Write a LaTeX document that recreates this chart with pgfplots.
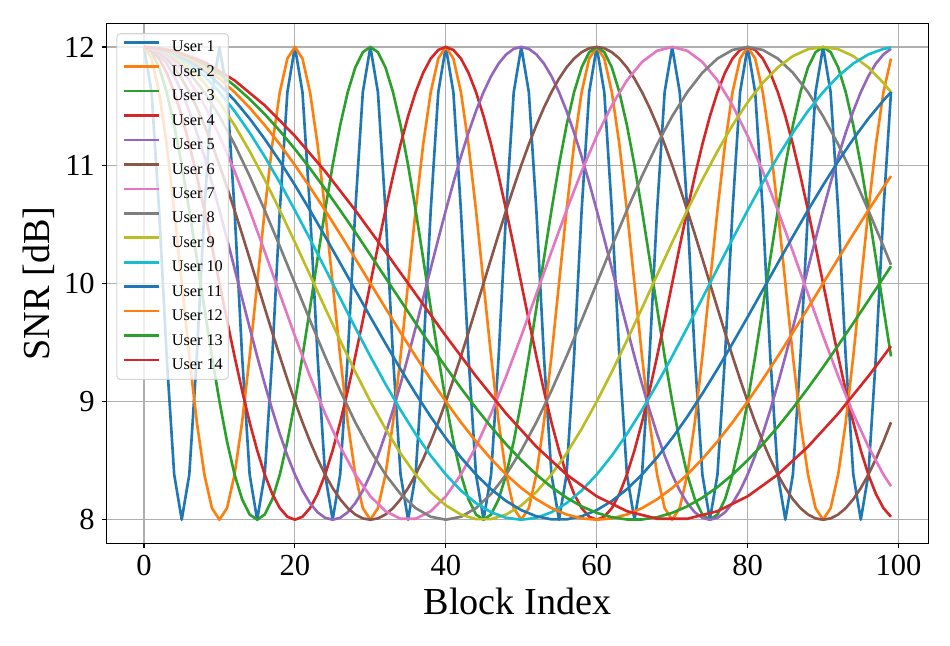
\documentclass[border=0pt]{standalone}
\usepackage{pgfplots}
\pgfplotsset{compat=1.18}
\usepackage{pgfplotstable}
\usepackage{fontspec}
\setmainfont{Liberation Serif}
\definecolor{c0}{HTML}{1F77B4}
\definecolor{c1}{HTML}{FF7F0E}
\definecolor{c2}{HTML}{2CA02C}
\definecolor{c3}{HTML}{D62728}
\definecolor{c4}{HTML}{9467BD}
\definecolor{c5}{HTML}{8C564B}
\definecolor{c6}{HTML}{E377C2}
\definecolor{c7}{HTML}{7F7F7F}
\definecolor{c8}{HTML}{BCBD22}
\definecolor{c9}{HTML}{17BECF}
\definecolor{gridc}{HTML}{B0B0B0}
\definecolor{legc}{HTML}{CCCCCC}

\pgfplotstableread{
t u1 u2 u3 u4 u5 u6
0 12 12 12 12 12 12
1 11.618 11.902 11.956 11.975 11.984 11.989
2 10.618 11.618 11.827 11.902 11.937 11.956
3 9.382 11.176 11.618 11.782 11.860 11.902
4 8.382 10.618 11.338 11.618 11.753 11.827
5 8 10 11 11.414 11.618 11.732
6 8.382 9.382 10.618 11.176 11.458 11.618
7 9.382 8.824 10.209 10.908 11.275 11.486
8 10.618 8.382 9.791 10.618 11.072 11.338
9 11.618 8.098 9.382 10.313 10.852 11.176
10 12 8 9 10 10.618 11
11 11.618 8.098 8.662 9.687 10.375 10.813
12 10.618 8.382 8.382 9.382 10.126 10.618
13 9.382 8.824 8.173 9.092 9.874 10.416
14 8.382 9.382 8.044 8.824 9.625 10.209
15 8 10 8 8.586 9.382 10
16 8.382 10.618 8.044 8.382 9.148 9.791
17 9.382 11.176 8.173 8.218 8.928 9.584
18 10.618 11.618 8.382 8.098 8.725 9.382
19 11.618 11.902 8.662 8.025 8.542 9.187
20 12 12 9 8 8.382 9
21 11.618 11.902 9.382 8.025 8.247 8.824
22 10.618 11.618 9.791 8.098 8.140 8.662
23 9.382 11.176 10.209 8.218 8.063 8.514
24 8.382 10.618 10.618 8.382 8.016 8.382
25 8 10 11 8.586 8 8.268
26 8.382 9.382 11.338 8.824 8.016 8.173
27 9.382 8.824 11.618 9.092 8.063 8.098
28 10.618 8.382 11.827 9.382 8.140 8.044
29 11.618 8.098 11.956 9.687 8.247 8.011
30 12 8 12 10 8.382 8
31 11.618 8.098 11.956 10.313 8.542 8.011
32 10.618 8.382 11.827 10.618 8.725 8.044
33 9.382 8.824 11.618 10.908 8.928 8.098
34 8.382 9.382 11.338 11.176 9.148 8.173
35 8 10 11 11.414 9.382 8.268
36 8.382 10.618 10.618 11.618 9.625 8.382
37 9.382 11.176 10.209 11.782 9.874 8.514
38 10.618 11.618 9.791 11.902 10.126 8.662
39 11.618 11.902 9.382 11.975 10.375 8.824
40 12 12 9 12 10.618 9
41 11.618 11.902 8.662 11.975 10.852 9.187
42 10.618 11.618 8.382 11.902 11.072 9.382
43 9.382 11.176 8.173 11.782 11.275 9.584
44 8.382 10.618 8.044 11.618 11.458 9.791
45 8 10 8 11.414 11.618 10
46 8.382 9.382 8.044 11.176 11.753 10.209
47 9.382 8.824 8.173 10.908 11.860 10.416
48 10.618 8.382 8.382 10.618 11.937 10.618
49 11.618 8.098 8.662 10.313 11.984 10.813
50 12 8 9 10 12 11
51 11.618 8.098 9.382 9.687 11.984 11.176
52 10.618 8.382 9.791 9.382 11.937 11.338
53 9.382 8.824 10.209 9.092 11.860 11.486
54 8.382 9.382 10.618 8.824 11.753 11.618
55 8 10 11 8.586 11.618 11.732
56 8.382 10.618 11.338 8.382 11.458 11.827
57 9.382 11.176 11.618 8.218 11.275 11.902
58 10.618 11.618 11.827 8.098 11.072 11.956
59 11.618 11.902 11.956 8.025 10.852 11.989
60 12 12 12 8 10.618 12
61 11.618 11.902 11.956 8.025 10.375 11.989
62 10.618 11.618 11.827 8.098 10.126 11.956
63 9.382 11.176 11.618 8.218 9.874 11.902
64 8.382 10.618 11.338 8.382 9.625 11.827
65 8 10 11 8.586 9.382 11.732
66 8.382 9.382 10.618 8.824 9.148 11.618
67 9.382 8.824 10.209 9.092 8.928 11.486
68 10.618 8.382 9.791 9.382 8.725 11.338
69 11.618 8.098 9.382 9.687 8.542 11.176
70 12 8 9 10 8.382 11
71 11.618 8.098 8.662 10.313 8.247 10.813
72 10.618 8.382 8.382 10.618 8.140 10.618
73 9.382 8.824 8.173 10.908 8.063 10.416
74 8.382 9.382 8.044 11.176 8.016 10.209
75 8 10 8 11.414 8 10
76 8.382 10.618 8.044 11.618 8.016 9.791
77 9.382 11.176 8.173 11.782 8.063 9.584
78 10.618 11.618 8.382 11.902 8.140 9.382
79 11.618 11.902 8.662 11.975 8.247 9.187
80 12 12 9 12 8.382 9
81 11.618 11.902 9.382 11.975 8.542 8.824
82 10.618 11.618 9.791 11.902 8.725 8.662
83 9.382 11.176 10.209 11.782 8.928 8.514
84 8.382 10.618 10.618 11.618 9.148 8.382
85 8 10 11 11.414 9.382 8.268
86 8.382 9.382 11.338 11.176 9.625 8.173
87 9.382 8.824 11.618 10.908 9.874 8.098
88 10.618 8.382 11.827 10.618 10.126 8.044
89 11.618 8.098 11.956 10.313 10.375 8.011
90 12 8 12 10 10.618 8
91 11.618 8.098 11.956 9.687 10.852 8.011
92 10.618 8.382 11.827 9.382 11.072 8.044
93 9.382 8.824 11.618 9.092 11.275 8.098
94 8.382 9.382 11.338 8.824 11.458 8.173
95 8 10 11 8.586 11.618 8.268
96 8.382 10.618 10.618 8.382 11.753 8.382
97 9.382 11.176 10.209 8.218 11.860 8.514
98 10.618 11.618 9.791 8.098 11.937 8.662
99 11.618 11.902 9.382 8.025 11.984 8.824
}\tabA

\pgfplotstableread{
t u7 u8 u9 u10 u11 u12 u13
0 12 12 12 12 12 12 12
2 11.968 11.975 11.981 11.984 11.987 11.989 11.991
4 11.873 11.902 11.923 11.937 11.948 11.956 11.963
6 11.717 11.782 11.827 11.860 11.884 11.902 11.917
8 11.506 11.618 11.696 11.753 11.795 11.827 11.852
10 11.247 11.414 11.532 11.618 11.683 11.732 11.771
12 10.948 11.176 11.338 11.458 11.548 11.618 11.673
14 10.618 10.908 11.118 11.275 11.394 11.486 11.559
16 10.268 10.618 10.877 11.072 11.221 11.338 11.431
18 9.910 10.313 10.618 10.852 11.033 11.176 11.290
20 9.555 10 10.347 10.618 10.831 11 11.136
22 9.214 9.687 10.070 10.375 10.618 10.813 10.972
24 8.898 9.382 9.791 10.126 10.397 10.618 10.799
26 8.618 9.092 9.516 9.874 10.171 10.416 10.618
28 8.382 8.824 9.251 9.625 9.943 10.209 10.432
30 8.198 8.586 9.000 9.382 9.715 10 10.241
32 8.072 8.382 8.769 9.148 9.492 9.791 10.048
34 8.008 8.218 8.561 8.928 9.274 9.584 9.855
36 8.008 8.098 8.382 8.725 9.067 9.382 9.663
38 8.072 8.025 8.234 8.542 8.871 9.187 9.475
40 8.198 8 8.121 8.382 8.690 9 9.291
42 8.382 8.025 8.044 8.247 8.527 8.824 9.114
44 8.618 8.098 8.005 8.140 8.382 8.662 8.945
46 8.898 8.218 8.005 8.063 8.258 8.514 8.786
48 9.214 8.382 8.044 8.016 8.158 8.382 8.638
50 9.555 8.586 8.121 8 8.081 8.268 8.503
52 9.910 8.824 8.234 8.016 8.029 8.173 8.382
54 10.268 9.092 8.382 8.063 8.003 8.098 8.276
56 10.618 9.382 8.561 8.140 8.003 8.044 8.186
58 10.948 9.687 8.769 8.247 8.029 8.011 8.113
60 11.247 10 9.000 8.382 8.081 8 8.058
62 11.506 10.313 9.251 8.542 8.158 8.011 8.021
64 11.717 10.618 9.516 8.725 8.258 8.044 8.002
66 11.873 10.908 9.791 8.928 8.382 8.098 8.002
68 11.968 11.176 10.070 9.148 8.527 8.173 8.021
70 12 11.414 10.347 9.382 8.690 8.268 8.058
72 11.968 11.618 10.618 9.625 8.871 8.382 8.113
74 11.873 11.782 10.877 9.874 9.067 8.514 8.186
76 11.717 11.902 11.118 10.126 9.274 8.662 8.276
78 11.506 11.975 11.338 10.375 9.492 8.824 8.382
80 11.247 12 11.532 10.618 9.715 9 8.503
82 10.948 11.975 11.696 10.852 9.943 9.187 8.638
84 10.618 11.902 11.827 11.072 10.171 9.382 8.786
86 10.268 11.782 11.923 11.275 10.397 9.584 8.945
88 9.910 11.618 11.981 11.458 10.618 9.791 9.114
90 9.555 11.414 12 11.618 10.831 10 9.291
92 9.214 11.176 11.981 11.753 11.033 10.209 9.475
94 8.898 10.908 11.923 11.860 11.221 10.416 9.663
96 8.618 10.618 11.827 11.937 11.394 10.618 9.855
98 8.382 10.313 11.696 11.984 11.548 10.813 10.048
99 8.283 10.157 11.618 11.996 11.618 10.908 10.145
}\tabB

\pgfplotstableread{
t u14
0 12
4 11.968
8 11.873
12 11.717
16 11.506
20 11.247
24 10.948
28 10.618
32 10.268
36 9.910
40 9.555
44 9.214
48 8.898
52 8.618
56 8.382
60 8.198
64 8.072
68 8.008
72 8.008
76 8.072
80 8.198
84 8.382
88 8.618
92 8.898
96 9.214
99 9.468
}\tabC

\begin{document}
\begin{tikzpicture}
\begin{axis}[
  scale only axis,
  width=591.6pt, height=374.4pt,
  xmin=-4.95, xmax=103.95, ymin=7.8, ymax=12.2,
  xtick={0,20,40,60,80,100}, ytick={8,9,10,11,12},
  grid=major,
  grid style={color=gridc, line width=0.8pt},
  axis line style={line width=0.8pt, black},
  tick align=outside, tick pos=left,
  major tick length=3.5pt,
  every tick/.style={black, line width=0.8pt},
  /pgf/number format/assume math mode=true,
  xticklabel style={font=\fontsize{22}{26}\selectfont, anchor=north, inner sep=0pt, yshift=-4.9pt},
  yticklabel style={font=\fontsize{22}{26}\selectfont, anchor=east, inner sep=0pt, xshift=-4.9pt},
  xlabel={Block Index}, ylabel={SNR [dB]},
  every axis x label/.style={at={(axis description cs:0.5,-0.136)}, anchor=base, font=\fontsize{27.5}{33}\selectfont},
  every axis y label/.style={at={(axis description cs:-0.0698,0.5)}, rotate=90, anchor=base, font=\fontsize{27.5}{33}\selectfont},
  no markers,
  every axis plot/.append style={line width=1.9pt, line join=round},
  legend cell align=left,
  legend style={at={(axis description cs:0.0118,0.981)}, anchor=north west,
    draw=legc, line width=0.8pt, fill=white, fill opacity=0.8, draw opacity=0.8, text opacity=1,
    rounded corners=2.5pt, font=\fontsize{11.7}{14}\selectfont,
    inner xsep=4pt, inner ysep=4.5pt, row sep=6.6pt,
    nodes={inner sep=0pt, text height=8.5pt, text depth=2.5pt}},
  legend image code/.code={\draw[#1, line width=1.9pt, draw opacity=1, fill=none] (0pt,3.9pt) -- (25.7pt,3.9pt); \path[draw=none, fill=none] (0pt,0pt) -- (34.6pt,0pt);},
]
\addplot[c0] table[x=t,y=u1] {\tabA}; \addlegendentry{User 1}
\addplot[c1] table[x=t,y=u2] {\tabA}; \addlegendentry{User 2}
\addplot[c2] table[x=t,y=u3] {\tabA}; \addlegendentry{User 3}
\addplot[c3] table[x=t,y=u4] {\tabA}; \addlegendentry{User 4}
\addplot[c4] table[x=t,y=u5] {\tabA}; \addlegendentry{User 5}
\addplot[c5] table[x=t,y=u6] {\tabA}; \addlegendentry{User 6}
\addplot[c6] table[x=t,y=u7] {\tabB}; \addlegendentry{User 7}
\addplot[c7] table[x=t,y=u8] {\tabB}; \addlegendentry{User 8}
\addplot[c8] table[x=t,y=u9] {\tabB}; \addlegendentry{User 9}
\addplot[c9] table[x=t,y=u10] {\tabB}; \addlegendentry{User 10}
\addplot[c0] table[x=t,y=u11] {\tabB}; \addlegendentry{User 11}
\addplot[c1] table[x=t,y=u12] {\tabB}; \addlegendentry{User 12}
\addplot[c2] table[x=t,y=u13] {\tabB}; \addlegendentry{User 13}
\addplot[c3] table[x=t,y=u14] {\tabC}; \addlegendentry{User 14}
\end{axis}
\pgfresetboundingbox
\path (-76.8pt,-73.2pt) rectangle (607.2pt,391.2pt);
\end{tikzpicture}
\end{document}
